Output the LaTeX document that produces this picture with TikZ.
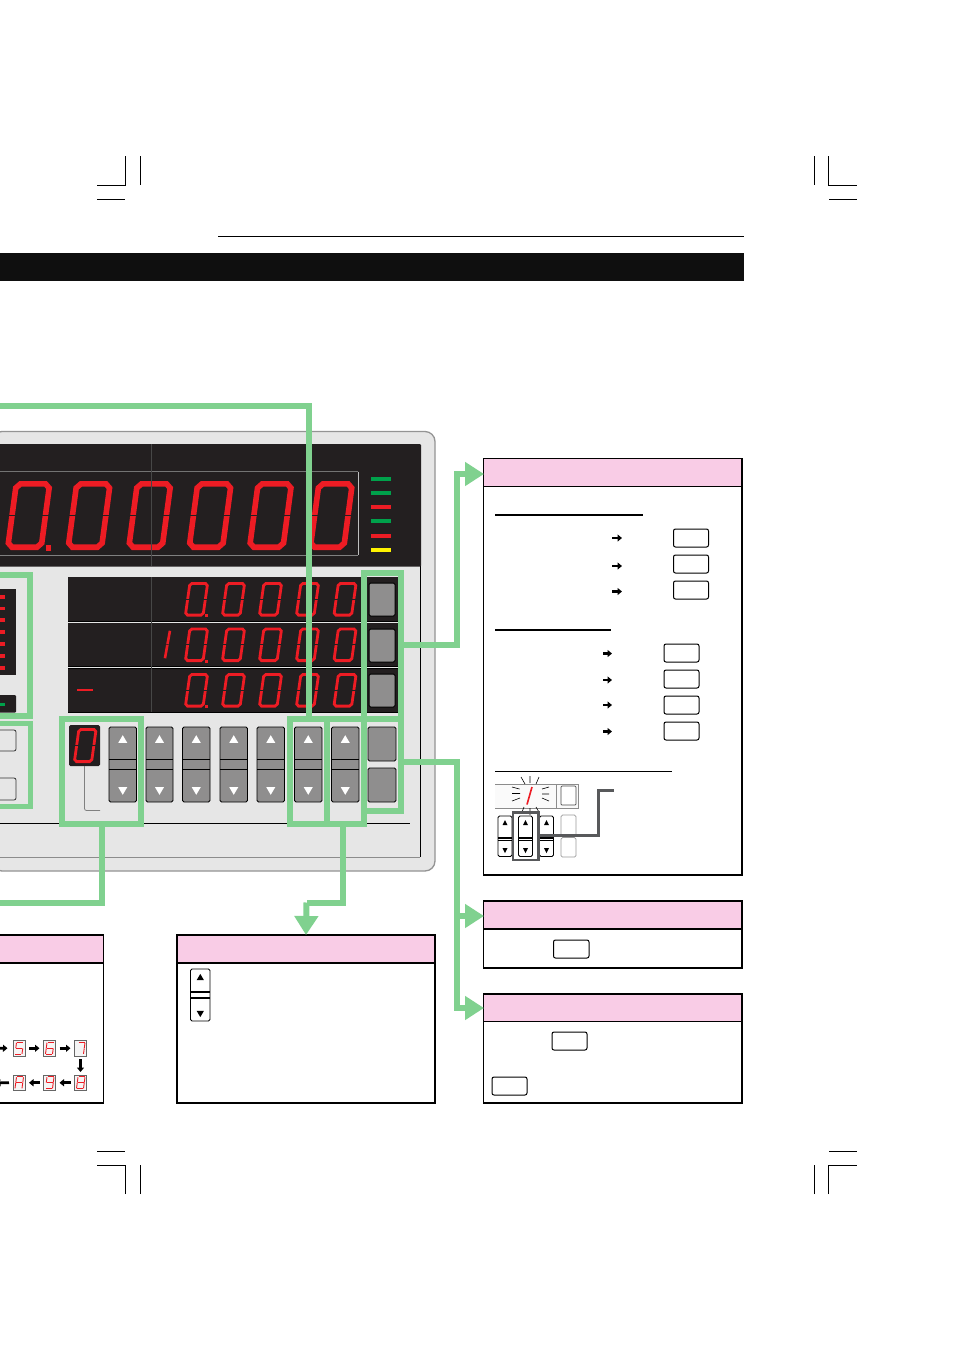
\documentclass[tikz,border=0pt]{standalone}
\usetikzlibrary{arrows.meta}
\definecolor{grn}{HTML}{80D18F}
\definecolor{pinkh}{HTML}{F9CCE6}
\definecolor{panelg}{HTML}{E6E6E6}
\definecolor{dk}{HTML}{231F20}
\definecolor{segred}{HTML}{ED1C24}
\definecolor{btng}{HTML}{8F8E8E}
\definecolor{ledg}{HTML}{00A14B}
\definecolor{frameg}{HTML}{58595B}
\tikzset{
  sg/.style={draw=segred,line cap=butt},
  cropm/.style={draw=black,line width=.8pt},
  pnl/.style={draw=black,line width=1.1pt,fill=white,anchor=north west,inner sep=0pt,outer sep=0pt},
  hdr/.style={draw=black,line width=1.5pt,fill=pinkh,anchor=north west,inner sep=0pt,outer sep=0pt},
  keybox/.style={draw=black,line width=1pt,rounded corners=2pt,fill=white,anchor=north west,inner sep=0pt,outer sep=0pt,minimum width=35pt,minimum height=18pt},
  gbox/.style={draw=grn,line width=6pt,anchor=north west,inner sep=0pt,outer sep=0pt},
  gline/.style={draw=grn,line width=6pt},
  garrow/.style={draw=grn,line width=6pt,-{Triangle[length=19pt,width=23pt]}},
  sarrow/.style={draw=black,line width=2.6pt,-{Triangle[length=4.5pt,width=7pt]}},
  sframe/.style={draw=black!60,line width=.7pt,fill=black!4,anchor=north west,inner sep=0pt,outer sep=0pt,minimum width=12pt,minimum height=15.5pt},
}
% seven-segment digit: x y w h slant thickness segments
\def\sga{\draw[sg,line width=\dT] ({\dS+\dE},0)--({\dW-\dE},0);}
\def\sgd{\draw[sg,line width=\dT] ({\dE},\dH)--({\dW-\dS-\dE},\dH);}
\def\sgg{\draw[sg,line width=\dT] ({\dS/2+\dE},{\dH/2})--({\dW-\dS/2-\dE},{\dH/2});}
\def\sgb{\draw[sg,line width=\dT] ({\dW-\dS*\dE/\dH},\dE)--({\dW-\dS*(\dH/2-\dM)/\dH},{\dH/2-\dM});}
\def\sgc{\draw[sg,line width=\dT] ({\dW-\dS*(\dH/2+\dM)/\dH},{\dH/2+\dM})--({\dW-\dS*(\dH-\dE)/\dH},{\dH-\dE});}
\def\sgf{\draw[sg,line width=\dT] ({\dS*(1-\dE/\dH)},\dE)--({\dS*(1-(\dH/2-\dM)/\dH)},{\dH/2-\dM});}
\def\sge{\draw[sg,line width=\dT] ({\dS*(1-(\dH/2+\dM)/\dH)},{\dH/2+\dM})--({\dS*\dE/\dH},{\dH-\dE});}
\newcommand{\dig}[7]{%
  \begin{scope}[shift={({#1+#6/2},{#2+#6/2})}]
    \pgfmathsetmacro\dW{#3-#6}\pgfmathsetmacro\dH{#4-#6}
    \def\dS{#5}\def\dT{#6}
    \pgfmathsetmacro\dE{#6*0.55}\pgfmathsetmacro\dM{#6*0.15}
    \foreach \q in {#7}{\csname sg\q\endcsname}
  \end{scope}}
% a zero: closed chamfered outline with a notch at mid-height on each side
\newcommand{\zero}[6]{%
  \begin{scope}[shift={({#1+#6/2},{#2+#6/2})}]
    \pgfmathsetmacro\dW{#3-#6}\pgfmathsetmacro\dH{#4-#6}
    \def\dS{#5}\def\dT{#6}
    \pgfmathsetmacro\dC{#6*0.75}
    \draw[sg,line width=\dT,line join=miter]
      ({\dS+\dC},0)--({\dW-\dC},0)--({\dW-\dS*\dC/\dH},\dC)--({\dW-\dS*(\dH-\dC)/\dH},{\dH-\dC})
      --({\dW-\dS-\dC},\dH)--(\dC,\dH)--({\dS*\dC/\dH},{\dH-\dC})--({\dS*(1-\dC/\dH)},\dC)--cycle;
    \draw[dk,line width=\dT*.22] ({\dS/2-\dT*.7},{\dH/2})--({\dS/2+\dT*.7},{\dH/2})
      ({\dW-\dS/2-\dT*.7},{\dH/2})--({\dW-\dS/2+\dT*.7},{\dH/2});
  \end{scope}}
\newcommand{\tri}[5]{% x y direction(+1 up,-1 down) colour half-width
  \fill[#4] ({#1-#5},{#2+#5*.85*#3})--({#1+#5},{#2+#5*.85*#3})--({#1},{#2-#5*.85*#3})--cycle;}
\newcommand{\udbtn}[2]{% left x, width
  \draw[fill=btng,draw=black,line width=.8pt,rounded corners=1.5pt] (#1,727) rectangle ({#1+#2},802);
  \draw[black,line width=.8pt] (#1,759)--({#1+#2},759) (#1,769)--({#1+#2},769);
  \tri{#1+#2/2}{739}{1}{white}{4.5}
  \tri{#1+#2/2}{791}{-1}{white}{4.5}}
\newcommand{\wbtn}[5]{% left x width top bottom band-y
  \draw[fill=white,draw=black,line width=.8pt,rounded corners=1.5pt] (#1,#3) rectangle ({#1+#2},#4);
  \draw[black,line width=1.2pt] (#1,#5)--({#1+#2},#5);
  }
\begin{document}
\begin{tikzpicture}[x=1pt,y=-1pt]
\useasboundingbox (0,0) rectangle (954,1350);
\fill[white] (0,0) rectangle (954,1350);
% crop marks
\draw[cropm] (125.5,156)--(125.5,185.5)--(97,185.5) (140.5,156)--(140.5,185) (97,199)--(125,199);
\draw[cropm] (828.5,156)--(828.5,185.5)--(857,185.5) (814.5,156)--(814.5,185) (829,199)--(857,199);
\draw[cropm] (125.5,1194)--(125.5,1165.5)--(97,1165.5) (140.5,1194)--(140.5,1165) (97,1151)--(125,1151);
\draw[cropm] (828.5,1194)--(828.5,1165.5)--(857,1165.5) (814.5,1194)--(814.5,1165) (829,1151)--(857,1151);
% title bar
\draw[black,line width=.9pt] (218,236.5)--(744,236.5);
\fill[black!94] (0,253) rectangle (744,281);
% instrument panel
\draw[fill=panelg,draw=black!42,line width=1.3pt,rounded corners=10pt] (-8,431.5)--(435,431.5)--(435,871)--(-8,871)--cycle;
\draw[black!45,line width=.7pt] (-2,857)--(420,857);
\draw[black,line width=.7pt] (420,857)--(420,566);
\fill[dk,rounded corners=1pt] (-3,444) rectangle (421,566.5);
\draw[black!55,line width=.8pt] (-2,471.5)--(358,471.5);
\draw[black!25,line width=.6pt] (358,471.5)--(358,555);
\draw[black!50,line width=.8pt] (358,555)--(-2,555);
\draw[black,line width=.8pt] (0,823)--(410,823);
% big digits
\foreach \x in {5,65.4,126,186.4,246.8,307.6}{\zero{\x}{481}{47.5}{69}{8.5}{5.6}}
\fill[segred] (46,545) rectangle (51,551);
% LEDs
\foreach \yy/\cc in {479/ledg,493/ledg,507/segred,521/ledg,536/segred,550/yellow}{\fill[\cc] (371,{\yy-2}) rectangle (391,{\yy+2});}
% small displays
\fill[black] (68,576.5) rectangle (398,712.5);
\fill[dk] (68,577) rectangle (398,621);
\fill[dk] (68,623) rectangle (398,665.5);
\fill[dk] (68,668.5) rectangle (398,712);
\draw[panelg,line width=.8pt] (68,622)--(398,622);
\draw[panelg,line width=.5pt] (68,667.7)--(398,667.7);
\draw[black!72,line width=.5pt] (151.3,444)--(151.3,566) (151.3,577)--(151.3,712);
\foreach \yy in {582,627.5,673}{
  \foreach \x in {184,221,258,295,332.5}{\zero{\x}{\yy}{25}{34.5}{4.5}{2.8}}
  \fill[segred] (205,{\yy+32}) rectangle (208,{\yy+35});}
\dig{163}{628}{8.5}{33}{5.5}{2.6}{b,c}
\draw[segred,line width=2.2pt] (77,690)--(93,690);
% display buttons
\foreach \yy in {583,629,674}{\draw[fill=btng,draw=black,line width=1pt,rounded corners=1.5pt] (369,\yy) rectangle (395,{\yy+33});}
% left bar graph
\fill[dk] (-3,589) rectangle (16,675);
\foreach \yy in {597,608.5,620,632,644,656,668}{\fill[segred] (-1,{\yy-1.7}) rectangle (5,{\yy+1.7});}
\fill[dk,rounded corners=1pt] (-3,695) rectangle (16,712.5);
\fill[ledg] (-1,702.5) rectangle (5,706);
\draw[fill=panelg,draw=black!80,line width=.8pt,rounded corners=2pt] (-5,730) rectangle (16,751);
\draw[fill=panelg,draw=black!80,line width=.8pt,rounded corners=2pt] (-5,778) rectangle (16,800);
% digit selector
\fill[dk,rounded corners=1.5pt] (69,725) rectangle (100,766);
\zero{73}{728}{24.5}{35}{4.5}{2.8}
\draw[black!50,line width=.8pt,rounded corners=2pt] (84.5,766)--(84.5,810.5)--(100,810.5);
% up/down buttons
\udbtn{109}{27.5}\udbtn{146}{27}\udbtn{182.5}{27.5}\udbtn{220}{27.5}\udbtn{257}{27.5}\udbtn{294.5}{27.5}\udbtn{331.5}{27.5}
\draw[fill=btng,draw=black,line width=.8pt,rounded corners=1.5pt] (368,727) rectangle (396,761);
\draw[fill=btng,draw=black,line width=.8pt,rounded corners=1.5pt] (368,768) rectangle (396,802);
% panels
\node[pnl,minimum width=258.5pt,minimum height=416.5pt] (p1) at (483.5,458.5) {};
\node[hdr,minimum width=258.5pt,minimum height=28pt] (h1) at (483.5,458.5) {};
\draw[black,line width=2pt] (p1.south west)--(p1.south east);
\node[pnl,minimum width=258.5pt,minimum height=67pt] (p2) at (483.5,901) {};
\node[hdr,minimum width=258.5pt,minimum height=28pt] (h2) at (483.5,901) {};
\node[pnl,minimum width=258.5pt,minimum height=109pt] (p3) at (483.5,994) {};
\node[hdr,minimum width=258.5pt,minimum height=27.5pt] (h3) at (483.5,994) {};
\node[pnl,minimum width=258pt,minimum height=168pt] (p4) at (177,935) {};
\node[hdr,minimum width=258pt,minimum height=28pt] (h4) at (177,935) {};
\node[pnl,minimum width=113.5pt,minimum height=168pt] (p5) at (-10,935) {};
\node[hdr,minimum width=113.5pt,minimum height=28pt] (h5) at (-10,935) {};
% panel 1 contents
\draw[black,line width=1.8pt] (495,515)--(643,515);
\draw[black,line width=1.5pt] (495,630)--(611,630);
\draw[black,line width=.9pt] (495,771.5)--(672,771.5);
\foreach \n/\yy in {a/529,b/555,c/581}{\node[keybox] (k\n) at (673.5,\yy) {};}
\foreach \n/\yy in {d/644,e/670,f/696,g/722}{\node[keybox] (k\n) at (664,\yy) {};}
\foreach \yy in {538,566,591.5}{\draw[sarrow] (612,\yy)--(622,\yy);}
\foreach \yy in {653.5,680,705,731.5}{\draw[sarrow] (603,\yy)--(612,\yy);}
% panel 1 illustration
\fill[black!2] (495,784) rectangle (556,808);
\draw[draw=black!45,line width=.7pt] (495,784) -- (556,784) -- (556,808) -- (495,808);
\draw[fill=black!2,draw=black!45,line width=.7pt] (556,784) rectangle (578,808);
\draw[fill=white,draw=black!70,line width=.7pt,rounded corners=1pt] (561,786) rectangle (576,805);
\draw[segred,line width=1.6pt] (532,787)--(527,804.5);
\draw[black,line width=.6pt] (530,776)--(530,783) (521,777)--(525,784) (539,777)--(536,784)
  (512,787)--(519.5,789) (512,793.5)--(520,793.5) (512,801)--(520,798)
  (542,789)--(549,787) (542,794)--(549,794) (542,798)--(549,801)
  (524,807)--(522,812) (530,808)--(530,815) (536,807)--(539,812);
\foreach \x in {498,518.5,539.5}{
  \wbtn{\x}{14}{816}{856.5}{838}
  \draw[black,line width=1.2pt] (\x,840.5)--({\x+14},840.5);
  \fill[black] ({\x+7-2.5},825)--({\x+7+2.5},825)--({\x+7},820)--cycle;
  \fill[black] ({\x+7-2.5},848)--({\x+7+2.5},848)--({\x+7},853)--cycle;}
\draw[fill=white,draw=black!40,line width=.7pt,rounded corners=1.5pt] (561,815) rectangle (576,836);
\draw[fill=white,draw=black!40,line width=.7pt,rounded corners=1.5pt] (561,837.5) rectangle (576,857);
\draw[frameg,line width=2.6pt] (513,812.5) rectangle (538.5,860);
\coordinate (illfrom) at (538.5,835.5);
\coordinate (illto) at (613.5,790.5);
\draw[frameg,line width=2.8pt] (illfrom) -| (598.5,790.5) -- (illto);
% other keys
\node[keybox,minimum width=35.5pt] (kh) at (553.5,940) {};
\node[keybox] (ki) at (552,1032) {};
\node[keybox] (kj) at (492,1077) {};
% panel 4 button
\wbtn{190.5}{19.5}{969}{1021}{992}
\draw[black,line width=1.3pt] (190.5,998)--(210,998);
\tri{200.3}{977}{1}{black}{3.6}
\tri{200.3}{1014}{-1}{black}{3.6}
% left panel sequence
\node[sframe] (fr5) at (13,1040.5) {};
\node[sframe] (fr6) at (43.5,1040.5) {};
\node[sframe] (fr7) at (74.5,1040.5) {};
\node[sframe] (fr8) at (74.5,1075) {};
\node[sframe] (fr9) at (43.5,1075) {};
\node[sframe] (frA) at (13,1075) {};
\dig{14.5}{1041.8}{9.5}{13}{1.6}{.9}{a,f,g,c,d}
\dig{45}{1041.8}{9.5}{13}{1.6}{.9}{a,f,g,e,c,d}
\dig{76}{1041.8}{9.5}{13}{1.6}{.9}{a,b,c}
\dig{76}{1076.3}{9.5}{13}{1.6}{.9}{a,b,c,d,e,f,g}
\dig{45}{1076.3}{9.5}{13}{1.6}{.9}{a,b,c,d,f,g}
\dig{14.5}{1076.3}{9.5}{13}{1.6}{.9}{a,b,c,e,f,g}
\coordinate (stubR) at (-1,1048.2);
\coordinate (stubL) at (-4,1082.8);
\draw[sarrow,shorten >=5.5pt] (stubR)--(fr5.west);
\draw[sarrow,shorten <=4pt,shorten >=4pt] (fr5.east)--(fr6.west);
\draw[sarrow,shorten <=4pt,shorten >=4pt] (fr6.east)--(fr7.west);
\draw[sarrow,shorten <=3pt,shorten >=3pt] (fr7.south)--(fr8.north);
\draw[sarrow,shorten <=4pt,shorten >=4pt] (fr8.west)--(fr9.east);
\draw[sarrow,shorten <=4pt,shorten >=4pt] (fr9.west)--(frA.east);
\draw[sarrow,shorten <=4pt] (frA.west)--(stubL);
% green boxes
\node[gbox,minimum width=79pt,minimum height=105pt] (selbox) at (62,719) {};
\node[gbox,minimum width=37pt,minimum height=105pt] (boxA) at (290,719) {};
\node[gbox,minimum width=37pt,minimum height=105pt] (boxB) at (327,719) {};
\node[gbox,minimum width=37pt,minimum height=146pt] (boxC) at (364,573) {};
\node[gbox,minimum width=37pt,minimum height=91.5pt] (boxD) at (364,719) {};
\draw[gline] (-5,575)--(30,575)--(30,716)--(-5,716);
\draw[grn,line width=5pt] (-5,723.5)--(30,723.5)--(30,806)--(-5,806);
\coordinate (topend) at (-5,405.5);
\coordinate (botend) at (-5,902.5);
\coordinate (bendD) at (306.5,902.5);
\coordinate (busA) at (457,474);
\coordinate (busB) at (457,916);
\coordinate (busC) at (457,1008);
\coordinate (p1in) at (484,474);
\coordinate (p2in) at (484,916);
\coordinate (p3in) at (484,1008);
\draw[gline] (topend) -| (boxA.north);
\draw[gline] (selbox.south) |- (botend);
\draw[garrow] ([yshift=1pt]boxC.east) -| (busA) -- (p1in);
\draw[garrow] ([yshift=2.7pt]boxD.east) -| (busC) -- (p3in);
\draw[garrow] (busB) -- (p2in);
\draw[gline] ([xshift=-2.5pt]boxB.south) |- (bendD);
\draw[garrow] (bendD) -- (p4.north);
\end{tikzpicture}
\end{document}
